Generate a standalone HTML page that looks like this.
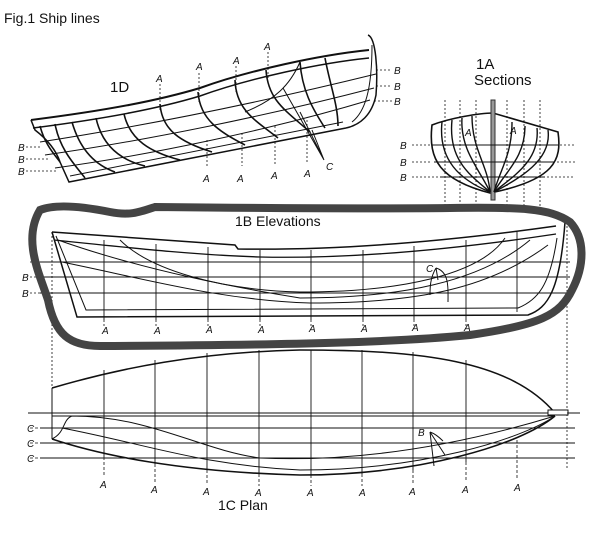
<!DOCTYPE html>
<html><head><style>
html,body{margin:0;padding:0;background:#fff;width:600px;height:538px;overflow:hidden}
svg{display:block}
text{font-family:"Liberation Sans",sans-serif;fill:#111}
.i{font-style:italic;font-size:10px}
</style></head><body>
<svg width="600" height="538" viewBox="0 0 600 538" xmlns="http://www.w3.org/2000/svg">
<g fill="none" stroke="#111" stroke-width="1">
<text x="4" y="23" font-size="14" stroke="none">Fig.1 Ship lines</text>
<text x="110" y="92" font-size="15" stroke="none">1D</text>
<text x="476" y="69" font-size="15" stroke="none">1A</text>
<text x="474" y="85" font-size="15" stroke="none">Sections</text>

<!-- 1D perspective hull -->
<path d="M31,120 C110,110 160,100 200,88 C250,70 320,55 369,50" stroke-width="2"/>
<path d="M33,128 C110,118 160,108 200,96 C250,78 320,63 369,58" stroke-width="1.5"/>
<path d="M31,120 L35,130 C48,140 56,150 60,162 L69,182 L346,128" stroke-width="1.5"/>
<path d="M70,176 L343,122"/>
<path d="M368,35 C376,38 378,70 376,95 C372,115 360,125 346,128" stroke-width="1.5"/>
<path d="M372,45 C372,90 365,112 352,122"/>
<path d="M40,142 C150,125 270,100 376,74 M45,155 C150,140 270,115 374,88 M55,168 C150,155 270,130 370,100"/>
<g stroke-width="1.6">
<path d="M40,126 C45,145 55,155 60,162"/><path d="M55,124 C60,150 75,165 85,178"/>
<path d="M72,122 C80,150 95,165 115,172"/><path d="M96,118 C102,145 120,160 145,166"/>
<path d="M124,114 C130,140 150,152 180,160"/><path d="M160,104 C162,130 180,142 212,152"/>
<path d="M198,92 C200,120 220,132 245,145"/><path d="M235,80 C236,110 255,120 278,138"/>
<path d="M266,70 C268,100 285,110 310,132"/><path d="M300,62 C302,90 312,108 325,128"/>
<path d="M325,58 C330,85 338,105 338,126"/>
</g>
<path d="M300,62 C290,85 275,100 245,112"/>
<g stroke-dasharray="2,2" stroke-width="0.8">
<path d="M160,84 V112 M199,73 V102 M236,66 V92 M268,52 V78 M207,140 V168 M242,133 V166 M275,126 V164 M307,120 V162"/>
<path d="M26,147 H42 M26,159 H48 M26,171 H58 M376,70 H392 M376,86 H392 M374,101 H392"/>
</g>
<text class="i" x="156" y="82" stroke="none">A</text><text class="i" x="196" y="70" stroke="none">A</text>
<text class="i" x="233" y="64" stroke="none">A</text><text class="i" x="264" y="50" stroke="none">A</text>
<text class="i" x="203" y="182" stroke="none">A</text><text class="i" x="237" y="182" stroke="none">A</text>
<text class="i" x="271" y="179" stroke="none">A</text><text class="i" x="304" y="177" stroke="none">A</text>
<text class="i" x="18" y="151" stroke="none">B</text><text class="i" x="18" y="163" stroke="none">B</text>
<text class="i" x="18" y="175" stroke="none">B</text>
<text class="i" x="394" y="74" stroke="none">B</text><text class="i" x="394" y="90" stroke="none">B</text>
<text class="i" x="394" y="105" stroke="none">B</text>
<text class="i" x="326" y="170" stroke="none">C</text>
<path d="M324,160 L283,88 M324,160 L300,112 M324,160 L312,130"/>

<!-- 1A sections -->
<path d="M432,125 C450,118 480,113 493,113 L558,132 C562,160 555,180 490,193 C440,180 428,160 432,125Z" stroke-width="1.6"/>
<rect x="491" y="100" width="4" height="100" fill="#999" stroke="#333"/>
<g stroke-width="1.4">
<path d="M442,122 C438,160 460,180 490,192"/><path d="M452,120 C448,160 470,175 490,192"/>
<path d="M462,118 C460,150 480,170 490,192"/><path d="M472,116 C472,150 488,165 490,192"/>
<path d="M548,130 C552,160 520,178 494,192"/><path d="M537,128 C540,160 515,175 494,192"/>
<path d="M525,126 C525,158 505,172 494,192"/><path d="M512,122 C512,155 500,170 494,192"/>
</g>
<path d="M432,145 H558 M434,162 H555 M440,177 H545"/>
<g stroke-dasharray="2,2" stroke-width="0.8">
<path d="M445,100 V210 M460,100 V210 M476,100 V210 M507,100 V210 M524,100 V210 M540,100 V210"/>
<path d="M412,145 H430 M560,145 H575 M412,162 H432 M557,162 H575 M412,177 H438 M547,177 H575"/>
</g>
<text class="i" x="465" y="136" stroke="none">A</text><text class="i" x="510" y="134" stroke="none">A</text>
<text class="i" x="400" y="149" stroke="none">B</text><text class="i" x="400" y="166" stroke="none">B</text>
<text class="i" x="400" y="181" stroke="none">B</text>

<!-- 1B Elevation -->
<text x="235" y="226" font-size="14" stroke="none">1B Elevations</text>
<path d="M52,232 C130,238 190,242 235,245 L238,249 C300,250 400,248 556,226" stroke-width="1.5"/>
<path d="M54,240 C150,250 200,255 260,257 C350,259 450,250 556,234" stroke-width="1.3"/>
<path d="M52,232 L77,317 L528,315 C548,308 560,290 565,222" stroke-width="1.5"/>
<path d="M56,236 L86,310 L518,308 C538,300 550,285 557,238"/>
<path d="M120,240 C150,270 220,290 300,292 C400,292 480,275 505,238"/>
<path d="M58,240 C120,262 200,282 300,298 C400,298 480,282 530,240"/>
<path d="M62,262 C150,280 220,300 310,303 C420,303 490,288 548,245"/>
<path d="M40,262 H570 M40,277 H570 M40,293 H570"/>
<g stroke-width="0.9">
<path d="M104,240 V320 M156,244 V320 M208,247 V320 M260,250 V320 M311,250 V320 M363,250 V320 M414,246 V320 M466,240 V320 M517,232 V312"/>
</g>
<g stroke-dasharray="2,2" stroke-width="0.8">
<path d="M104,320 V328 M156,320 V328 M208,320 V328 M260,320 V328 M311,320 V328 M363,320 V328 M414,320 V328 M466,320 V328"/>
<path d="M52,232 V415 M567,222 V470 M30,262 H50 M30,277 H55 M30,293 H60"/>
</g>
<text class="i" x="22" y="281" stroke="none">B</text><text class="i" x="22" y="297" stroke="none">B</text>
<text class="i" x="426" y="272" stroke="none">C</text>
<path d="M436,268 L438,280 M436,268 C430,278 430,288 430,295 M436,268 C450,272 448,290 448,302"/>
<g>
<text class="i" x="102" y="334" stroke="none">A</text><text class="i" x="154" y="334" stroke="none">A</text>
<text class="i" x="206" y="333" stroke="none">A</text><text class="i" x="258" y="333" stroke="none">A</text>
<text class="i" x="309" y="332" stroke="none">A</text><text class="i" x="361" y="332" stroke="none">A</text>
<text class="i" x="412" y="331" stroke="none">A</text><text class="i" x="464" y="331" stroke="none">A</text>
</g>
<path d="M40,210 C55,204 80,206 110,212 C130,216 140,212 155,207 C250,208 350,209 450,208 C520,207 550,208 570,222 C585,238 585,265 572,290 C560,315 540,325 470,335 C400,342 300,345 100,346 C70,346 55,335 48,300 C40,275 22,240 40,210Z" stroke="#444" stroke-width="8"/>

<!-- 1C Plan -->
<path d="M52,388 C120,368 200,352 300,350 C420,350 510,360 555,413" stroke-width="1.5"/>
<path d="M52,388 V439"/>
<path d="M28,413 H580 M52,416 H555"/>
<rect x="548" y="410" width="20" height="5" fill="#fff" stroke="#111"/>
<path d="M52,439 C100,455 180,472 300,475 C420,475 520,445 555,416" stroke-width="1.6"/>
<path d="M72,416 C62,420 66,432 52,439 M72,416 C150,416 200,450 260,458 C350,462 450,448 555,416"/>
<path d="M62,428 C150,445 200,465 300,470 C420,470 520,440 555,416"/>
<path d="M40,428 H575 M40,443 H575 M40,458 H575"/>
<g stroke-width="0.9">
<path d="M104,370 V457 M155,360 V464 M207,353 V470 M259,350 V474 M311,350 V475 M362,350 V474 M413,352 V470 M466,360 V462"/>
</g>
<g stroke-dasharray="3,2" stroke-width="0.8">
<path d="M104,457 V476 M155,464 V482 M207,470 V484 M259,474 V486 M311,475 V486 M362,474 V486 M413,470 V484 M466,462 V482 M517,440 V480 M30,428 H52 M30,443 H52 M30,458 H80 M567,413 H580"/>
</g>
<text class="i" x="27" y="432" stroke="none">C</text><text class="i" x="27" y="447" stroke="none">C</text>
<text class="i" x="27" y="462" stroke="none">C</text>
<text class="i" x="418" y="436" stroke="none">B</text>
<path d="M430,432 C436,434 440,438 443,441 M430,432 L445,455 M430,432 L434,466"/>
<text class="i" x="100" y="488" stroke="none">A</text><text class="i" x="151" y="493" stroke="none">A</text>
<text class="i" x="203" y="495" stroke="none">A</text><text class="i" x="255" y="496" stroke="none">A</text>
<text class="i" x="307" y="496" stroke="none">A</text><text class="i" x="359" y="496" stroke="none">A</text>
<text class="i" x="409" y="495" stroke="none">A</text><text class="i" x="462" y="493" stroke="none">A</text>
<text class="i" x="514" y="491" stroke="none">A</text>
<text x="218" y="510" font-size="14" stroke="none">1C Plan</text>
</g>
</svg>
</body></html>
